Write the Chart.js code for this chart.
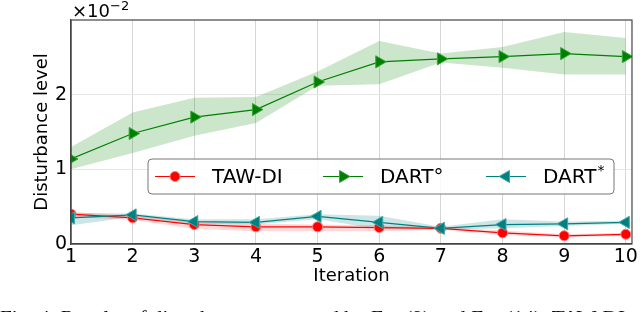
<!DOCTYPE html>
<html>
<head>
<meta charset="utf-8">
<script src="https://cdn.jsdelivr.net/npm/chart.js@4"></script>
<style>
  html, body { margin: 0; padding: 0; background: #fff; }
  #wrap { width: 640px; height: 312px; }
</style>
</head>
<body>
<div id="wrap"><canvas id="myChart" width="640" height="312"></canvas></div>
<script>
// values in units of 1e-2
var iterations = [1, 2, 3, 4, 5, 6, 7, 8, 9, 10];
var seriesNames = ['TAW-DI', 'DART\u00b0', 'DART*'];

var tawdi     = [0.40, 0.35, 0.26, 0.23, 0.23, 0.22, 0.21, 0.15, 0.11, 0.13];
var tawdiLow  = [0.36, 0.32, 0.20, 0.17, 0.17, 0.17, 0.19, 0.12, 0.09, 0.11];
var tawdiHigh = [0.43, 0.38, 0.30, 0.27, 0.26, 0.25, 0.23, 0.18, 0.13, 0.15];

var dartO     = [1.14, 1.48, 1.70, 1.80, 2.17, 2.44, 2.48, 2.51, 2.55, 2.51];
var dartOLow  = [1.00, 1.22, 1.45, 1.62, 2.12, 2.14, 2.43, 2.36, 2.27, 2.27];
var dartOHigh = [1.30, 1.76, 1.96, 1.97, 2.31, 2.72, 2.55, 2.64, 2.84, 2.76];

var dartS     = [0.35, 0.39, 0.30, 0.29, 0.37, 0.29, 0.21, 0.26, 0.27, 0.29];
var dartSLow  = [0.25, 0.36, 0.27, 0.26, 0.33, 0.20, 0.19, 0.21, 0.24, 0.27];
var dartSHigh = [0.42, 0.41, 0.33, 0.33, 0.40, 0.38, 0.23, 0.33, 0.30, 0.31];

var yTicks = [0, 1, 2];
var caption = 'Fig. 4: Results of disturbance computed by Eq. (9) and Eq. (14). TAW-DI';

function pts(arr) {
    return arr.map(function (v, i) { return { x: iterations[i], y: v }; });
}

function band(low, high, color, order) {
    return [
        { data: pts(low), borderWidth: 0, pointRadius: 0, fill: false, order: order },
        { data: pts(high), borderWidth: 0, pointRadius: 0, fill: '-1', backgroundColor: color, order: order }
    ];
}

var FONT = 'DejaVu Sans';

var extras = {
    id: 'extras',
    afterDraw: function (chart) {
        var ctx = chart.ctx, a = chart.chartArea;
        ctx.save();
        // frame
        ctx.strokeStyle = '#444';
        ctx.lineWidth = 1.2;
        ctx.strokeRect(a.left, a.top, a.right - a.left, a.bottom - a.top);

        // exponent label
        ctx.fillStyle = '#000';
        ctx.textBaseline = 'alphabetic';
        ctx.textAlign = 'left';
        ctx.font = '18px "' + FONT + '"';
        ctx.fillText('\u00d710', a.left + 1, 17);
        var w = ctx.measureText('\u00d710').width;
        ctx.font = '13px "' + FONT + '"';
        ctx.fillText('\u22122', a.left + 1 + w, 10);

        // legend
        var lx = 148, ly = 159, lw = 466, lh = 35;
        ctx.beginPath();
        ctx.roundRect(lx, ly, lw, lh, 4);
        ctx.fillStyle = 'rgba(255,255,255,0.85)';
        ctx.fill();
        ctx.strokeStyle = '#777';
        ctx.lineWidth = 1;
        ctx.stroke();

        var items = [
            { x: 155, color: '#ff0000', edge: '#ff7a7a', shape: 'circle', rot: 0 },
            { x: 323, color: '#008000', edge: '#3aa53a', shape: 'triangle', rot: 90 },
            { x: 486, color: '#008080', edge: '#45a8a8', shape: 'triangle', rot: -90 }
        ];
        var cy = ly + lh / 2;
        items.forEach(function (it, i) {
            ctx.strokeStyle = it.color;
            ctx.lineWidth = 1.2;
            ctx.beginPath();
            ctx.moveTo(it.x, cy);
            ctx.lineTo(it.x + 40, cy);
            ctx.stroke();
            drawMarker(ctx, it, it.x + 20, cy);
            ctx.fillStyle = '#000';
            ctx.font = '20px "' + FONT + '"';
            ctx.textBaseline = 'middle';
            var name = seriesNames[i];
            if (i === 2) {
                var base = name.slice(0, -1), sup = name.slice(-1);
                ctx.fillText(base, it.x + 57, cy + 1);
                var bw = ctx.measureText(base).width;
                ctx.font = '14px "' + FONT + '"';
                ctx.fillText(sup, it.x + 57 + bw + 1, cy - 5);
            } else {
                ctx.fillText(name, it.x + 57, cy + 1);
            }
        });

        // caption (cut off at the bottom edge)
        ctx.font = '19px "Liberation Serif"';
        ctx.textBaseline = 'alphabetic';
        var cw = ctx.measureText(caption).width;
        ctx.scale(625 / cw, 1);
        ctx.fillText(caption, 0, 323.5);
        ctx.restore();
    }
};

function drawMarker(ctx, it, x, y) {
    ctx.fillStyle = it.color;
    ctx.strokeStyle = it.edge;
    ctx.lineWidth = 1;
    ctx.beginPath();
    if (it.shape === 'circle') {
        ctx.arc(x, y, 5, 0, Math.PI * 2);
    } else {
        var r = 7, rad = it.rot * Math.PI / 180;
        for (var k = 0; k < 3; k++) {
            var px = x + Math.sin(rad) * r, py = y - Math.cos(rad) * r;
            if (k === 0) ctx.moveTo(px, py); else ctx.lineTo(px, py);
            rad += 2 * Math.PI / 3;
        }
        ctx.closePath();
    }
    ctx.fill();
    ctx.stroke();
}

var datasets = []
    .concat(band(tawdiLow, tawdiHigh, 'rgba(255,0,0,0.15)', 10))
    .concat(band(dartOLow, dartOHigh, 'rgba(0,128,0,0.2)', 10))
    .concat(band(dartSLow, dartSHigh, 'rgba(0,128,128,0.2)', 10))
    .concat([
        { label: seriesNames[0], data: pts(tawdi), borderColor: '#ff0000', borderWidth: 1.2,
          pointStyle: 'circle', pointRadius: 5, pointBackgroundColor: '#ff0000',
          pointBorderColor: '#ff7a7a', pointBorderWidth: 1, fill: false, order: 3 },
        { label: seriesNames[1], data: pts(dartO), borderColor: '#008000', borderWidth: 1.2,
          pointStyle: 'triangle', pointRotation: 90, pointRadius: 7, pointBackgroundColor: '#008000',
          pointBorderColor: '#3aa53a', pointBorderWidth: 1, fill: false, order: 2 },
        { label: seriesNames[2], data: pts(dartS), borderColor: '#008080', borderWidth: 1.2,
          pointStyle: 'triangle', pointRotation: -90, pointRadius: 7, pointBackgroundColor: '#008080',
          pointBorderColor: '#45a8a8', pointBorderWidth: 1, fill: false, order: 1 }
    ]);

var ctx = document.getElementById('myChart').getContext('2d');
var myChart = new Chart(ctx, {
    type: 'line',
    data: { datasets: datasets },
    options: {
        responsive: false,
        animation: false,
        layout: { padding: { left: 0, right: 6, top: 20, bottom: 0 } },
        elements: { line: { tension: 0 } },
        plugins: {
            legend: { display: false },
            tooltip: { enabled: false }
        },
        scales: {
            x: {
                type: 'linear',
                min: 1,
                max: 10.1,
                afterFit: function (s) { s.height = 68; },
                ticks: {
                    stepSize: 1,
                    includeBounds: false,
                    color: '#000',
                    padding: 2,
                    maxRotation: 0,
                    font: { family: FONT, size: 19 }
                },
                grid: { color: '#d6d6d6', drawTicks: false },
                border: { color: '#444', width: 1.2 },
                title: {
                    display: true,
                    text: 'Iteration',
                    color: '#000',
                    font: { family: FONT, size: 18 },
                    padding: { top: 0, bottom: 25 }
                }
            },
            y: {
                min: 0,
                max: 3,
                afterFit: function (s) { s.width = 71; },
                afterBuildTicks: function (s) {
                    s.ticks = yTicks.map(function (v) { return { value: v }; });
                },
                ticks: {
                    color: '#000',
                    padding: 4,
                    font: { family: FONT, size: 19 }
                },
                grid: { color: '#e6e6e6', drawTicks: false },
                border: { color: '#444', width: 1.2 },
                title: {
                    display: true,
                    text: 'Disturbance level',
                    color: '#000',
                    font: { family: FONT, size: 18 },
                    padding: { top: 32, bottom: 0 }
                }
            }
        }
    },
    plugins: [extras]
});
</script>
</body>
</html>
